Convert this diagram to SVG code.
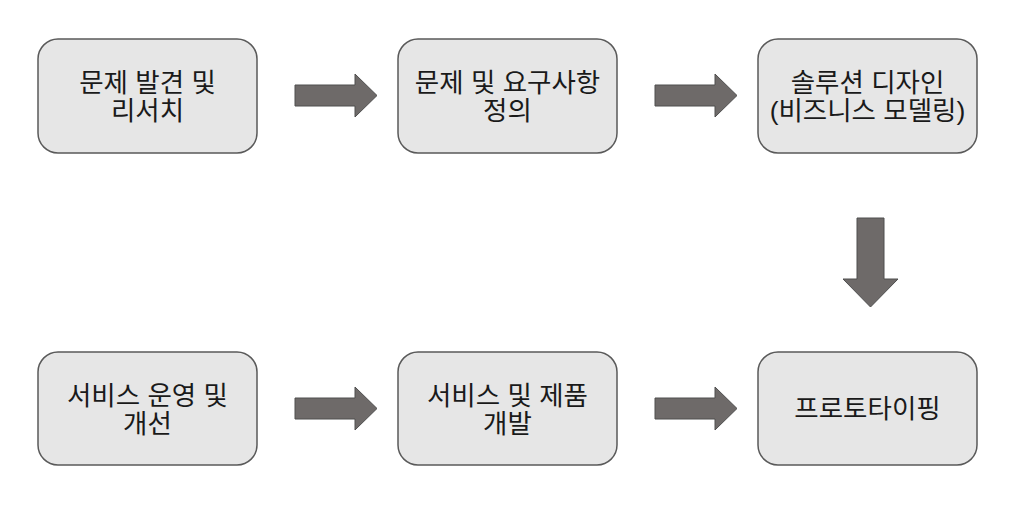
<svg xmlns="http://www.w3.org/2000/svg" width="1010" height="505" viewBox="0 0 1010 505">
<style>
.box{fill:#e6e6e6;stroke:#5a5a5a;stroke-width:1.5}
.lbl{font-family:"Liberation Sans","Noto Sans CJK KR",sans-serif;font-size:26.5px;fill:#1a1a1a;text-anchor:middle}
.arr{fill:#6e6a69;stroke:#4f4f4f;stroke-width:1}
</style>
<rect width="1010" height="505" fill="#ffffff"/>
<g id="connectors">
<path class="arr" d="M295,85 H355 V74 L377,95.5 L355,117 V106 H295 Z"/>
<path class="arr" d="M655,85 H715 V74 L737,95.5 L715,117 V106 H655 Z"/>
<path class="arr" d="M857,218 H884 V279 H898 L870.5,307 L843,279 H857 Z"/>
<path class="arr" d="M295,398 H355 V387 L377,408.5 L355,430 V419 H295 Z"/>
<path class="arr" d="M655,398 H715 V387 L737,408.5 L715,430 V419 H655 Z"/>
</g>
<g id="n1">
<rect class="box" x="38" y="39" width="219" height="114" rx="20"/>
<text class="lbl" x="147.5" y="91.5">문제 발견 및</text>
<text class="lbl" x="147.5" y="120">리서치</text>
</g>
<g id="n2">
<rect class="box" x="398" y="39" width="219" height="114" rx="20"/>
<text class="lbl" x="507.5" y="91.5">문제 및 요구사항</text>
<text class="lbl" x="507.5" y="120">정의</text>
</g>
<g id="n3">
<rect class="box" x="758" y="39" width="219" height="114" rx="20"/>
<text class="lbl" x="867.5" y="91.5">솔루션 디자인</text>
<text class="lbl" x="867.5" y="120">(비즈니스 모델링)</text>
</g>
<g id="n4">
<rect class="box" x="758" y="352" width="219" height="113" rx="20"/>
<text class="lbl" x="867.5" y="417.5">프로토타이핑</text>
</g>
<g id="n5">
<rect class="box" x="398" y="352" width="219" height="113" rx="20"/>
<text class="lbl" x="507.5" y="405">서비스 및 제품</text>
<text class="lbl" x="507.5" y="432.5">개발</text>
</g>
<g id="n6">
<rect class="box" x="38" y="352" width="219" height="113" rx="20"/>
<text class="lbl" x="147.5" y="405">서비스 운영 및</text>
<text class="lbl" x="147.5" y="432.5">개선</text>
</g>
</svg>
